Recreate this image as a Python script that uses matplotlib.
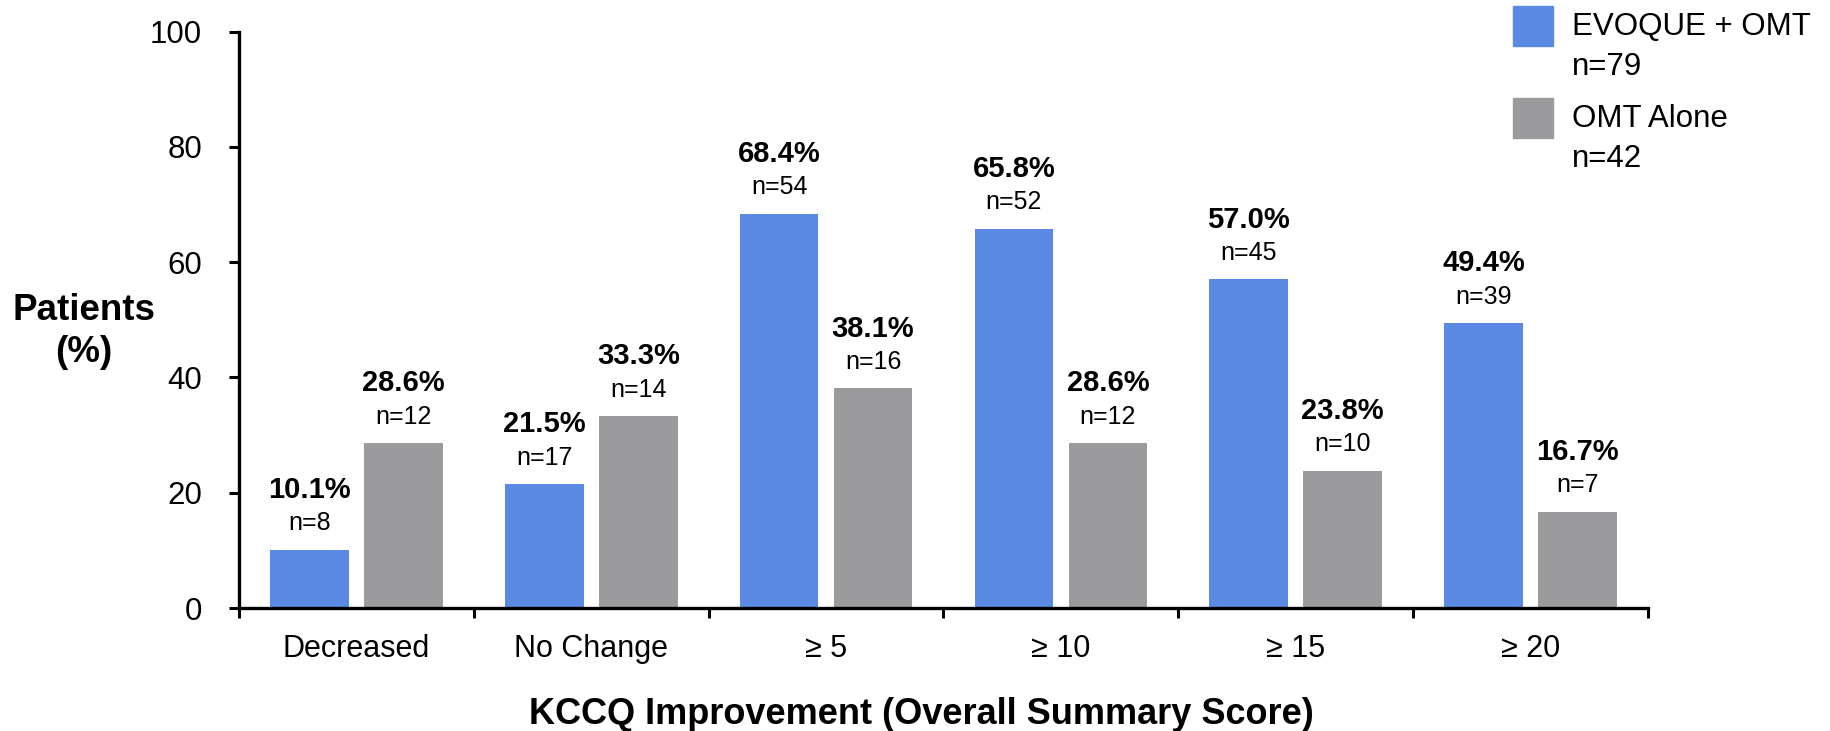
import matplotlib
matplotlib.use("Agg")
import matplotlib.pyplot as plt
from matplotlib.patches import Rectangle
import numpy as np

plt.rcParams['font.family'] = ['Liberation Sans', 'DejaVu Sans']

categories = ["Decreased", "No Change", "\u2265 5", "\u2265 10", "\u2265 15", "\u2265 20"]
evoque_pct = [10.1, 21.5, 68.4, 65.8, 57.0, 49.4]
evoque_n = [8, 17, 54, 52, 45, 39]
omt_pct = [28.6, 33.3, 38.1, 28.6, 23.8, 16.7]
omt_n = [12, 14, 16, 12, 10, 7]
legend_labels = [("EVOQUE + OMT", "n=79"), ("OMT Alone", "n=42")]
yticks = [0, 20, 40, 60, 80, 100]

BLUE = "#5B8AE5"
GRAY = "#9B9B9D"
W, H = 1831, 731

fig = plt.figure(figsize=(W / 100, H / 100), dpi=100)
ax = fig.add_axes([239 / W, 1 - 608 / H, (1648 - 239) / W, (608 - 31.5) / H])

x = np.arange(len(categories)) + 0.5
bw = 0.335
off = 0.2
b1 = ax.bar(x - off, evoque_pct, bw, color=BLUE, edgecolor="none")
b2 = ax.bar(x + off, omt_pct, bw, color=GRAY, edgecolor="none")

for bars, pcts, ns in ((b1, evoque_pct, evoque_n), (b2, omt_pct, omt_n)):
    for r, p, n in zip(bars, pcts, ns):
        cx = r.get_x() + r.get_width() / 2
        top = r.get_height()
        ax.annotate(f"n={n}", (cx, top), xytext=(0, 19), textcoords="offset points",
                    ha="center", va="center", fontsize=18)
        ax.annotate(f"{p:.1f}%", (cx, top), xytext=(0, 43), textcoords="offset points",
                    ha="center", va="center", fontsize=21, fontweight="bold")

ax.set_xlim(0, len(categories))
ax.set_ylim(0, 100)
ax.set_yticks(yticks)
ax.set_yticklabels([str(t) for t in yticks], fontsize=22.5)
ax.set_xticks(x)
ax.set_xticklabels(categories, fontsize=22)
ax.set_xticks(np.arange(len(categories) + 1), minor=True)
ax.tick_params(axis="x", which="major", length=0, pad=19)
ax.tick_params(axis="x", which="minor", length=7.5, width=2.2, direction="out")
ax.tick_params(axis="y", which="major", length=7.5, width=2.2, direction="out", pad=19)

for s in ("top", "right"):
    ax.spines[s].set_visible(False)
for s in ("left", "bottom"):
    ax.spines[s].set_linewidth(2.4)

fig.text(921 / W, 1 - 724 / H, "KCCQ Improvement (Overall Summary Score)",
         ha="center", va="baseline", fontsize=26, fontweight="bold")
fig.text(84 / W, 1 - 320 / H, "Patients", ha="center", va="baseline",
         fontsize=26.5, fontweight="bold")
fig.text(84 / W, 1 - 362 / H, "(%)", ha="center", va="baseline",
         fontsize=26.5, fontweight="bold")

# legend
for i, (color, (lab, nlab)) in enumerate(zip((BLUE, GRAY), legend_labels)):
    y0 = 6 + i * 92
    fig.patches.append(Rectangle((1513 / W, 1 - (y0 + 40) / H), 40 / W, 40 / H,
                                 transform=fig.transFigure, color=color))
    fig.text(1572 / W, 1 - (y0 + 29) / H, lab, ha="left", va="baseline", fontsize=22.5)
    fig.text(1572 / W, 1 - (y0 + 69) / H, nlab, ha="left", va="baseline", fontsize=22.5)

fig.savefig("out.png", dpi=100)
